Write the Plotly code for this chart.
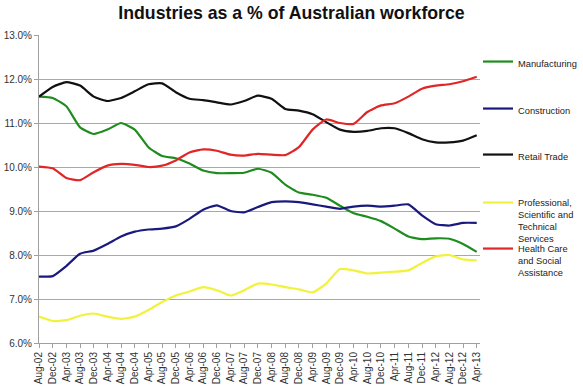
import plotly.graph_objects as go

months = ["Aug-02", "Dec-02", "Apr-03", "Aug-03", "Dec-03", "Apr-04", "Aug-04", "Dec-04",
          "Apr-05", "Aug-05", "Dec-05", "Apr-06", "Aug-06", "Dec-06", "Apr-07", "Aug-07",
          "Dec-07", "Apr-08", "Aug-08", "Dec-08", "Apr-09", "Aug-09", "Dec-09", "Apr-10",
          "Aug-10", "Dec-10", "Apr-11", "Aug-11", "Dec-11", "Apr-12", "Aug-12", "Dec-12",
          "Apr-13"]

manufacturing = [11.60, 11.57, 11.38, 10.90, 10.75, 10.85, 11.00, 10.85, 10.45, 10.25, 10.20,
                 10.08, 9.92, 9.86, 9.86, 9.87, 9.96, 9.87, 9.60, 9.42, 9.37, 9.30, 9.12,
                 8.95, 8.87, 8.77, 8.60, 8.42, 8.36, 8.38, 8.37, 8.25, 8.07]
construction = [7.51, 7.52, 7.75, 8.03, 8.10, 8.25, 8.42, 8.53, 8.58, 8.60, 8.65, 8.82,
                9.03, 9.13, 9.00, 8.97, 9.09, 9.20, 9.22, 9.20, 9.15, 9.10, 9.05, 9.10,
                9.12, 9.10, 9.12, 9.15, 8.90, 8.70, 8.67, 8.73, 8.73]
retail = [11.60, 11.82, 11.93, 11.85, 11.60, 11.50, 11.57, 11.72, 11.88, 11.90, 11.70,
          11.55, 11.52, 11.47, 11.42, 11.50, 11.62, 11.55, 11.32, 11.28, 11.20, 11.02,
          10.85, 10.80, 10.82, 10.88, 10.88, 10.77, 10.63, 10.56, 10.56, 10.60, 10.72]
professional = [6.60, 6.50, 6.52, 6.62, 6.67, 6.60, 6.55, 6.60, 6.75, 6.93, 7.08, 7.17,
                7.27, 7.20, 7.08, 7.20, 7.35, 7.33, 7.27, 7.22, 7.15, 7.35, 7.68, 7.65,
                7.58, 7.60, 7.62, 7.65, 7.82, 7.97, 8.00, 7.90, 7.88]
health = [10.01, 9.97, 9.75, 9.70, 9.88, 10.03, 10.07, 10.05, 10.00, 10.03, 10.15, 10.33,
          10.40, 10.37, 10.28, 10.26, 10.30, 10.28, 10.27, 10.45, 10.85, 11.08, 11.00,
          10.98, 11.25, 11.40, 11.45, 11.60, 11.78, 11.85, 11.88, 11.95, 12.05]

y_ticks = [6, 7, 8, 9, 10, 11, 12, 13]
y_tick_labels = ["6.0%", "7.0%", "8.0%", "9.0%", "10.0%", "11.0%", "12.0%", "13.0%"]

series = [
    ("Manufacturing", manufacturing, "#1e8c1e", "legend"),
    ("Construction", construction, "#1a1a7e", "legend2"),
    ("Retail Trade", retail, "#111111", "legend3"),
    ("Professional,<br>Scientific and<br>Technical<br>Services", professional, "#f2f23c", "legend4"),
    ("Health Care<br>and Social<br>Assistance", health, "#e02626", "legend5"),
]

fig = go.Figure()
for name, vals, color, lg in series:
    fig.add_trace(go.Scatter(
        x=months, y=vals, mode="lines", name=name,
        line=dict(color=color, width=2.2, shape="spline", smoothing=0.5),
        legend=lg, hoverinfo="skip"))

W, H = 583, 388
L, R, T, B = 39, 103, 35, 45
plot_h = H - T - B
plot_w = W - L - R


def py(ypix):
    return (H - B - ypix) / plot_h


leg_x = (478 - L) / plot_w
leg_tops = [49, 96, 142, 190, 236]
leg_common = dict(font=dict(family="Liberation Sans, Arial, sans-serif", size=9.3, color="#222"),
                  bgcolor="rgba(0,0,0,0)", borderwidth=0, valign="top",
                  xanchor="left", yanchor="top", x=leg_x, tracegroupgap=0)

layout_legends = {}
for i, top in enumerate(leg_tops):
    key = "legend" if i == 0 else f"legend{i+1}"
    layout_legends[key] = dict(leg_common, y=py(top))

fig.update_layout(
    width=W, height=H,
    margin=dict(l=L, r=R, t=T, b=B, autoexpand=False),
    paper_bgcolor="white", plot_bgcolor="white",
    title=dict(text="<b>Industries as a % of Australian workforce</b>",
               x=0.5, xanchor="center", y=1 - 13 / H, yanchor="middle", yref="container",
               font=dict(family="Liberation Sans, Arial, sans-serif", size=17.7, color="#111")),
    showlegend=True,
    **layout_legends,
    xaxis=dict(type="category", range=[0, 32.24], tickangle=-90,
               tickfont=dict(family="Liberation Sans, Arial, sans-serif", size=10, color="#333"),
               showgrid=False, showline=True, linecolor="#a0a0a0", linewidth=1,
               ticks="outside", ticklen=4, tickcolor="#a0a0a0", zeroline=False),
    yaxis=dict(range=[6, 13], tickvals=y_ticks, ticktext=y_tick_labels,
               tickfont=dict(family="Liberation Sans, Arial, sans-serif", size=10, color="#333"),
               showgrid=True, gridcolor="#a8a8a8", gridwidth=1,
               showline=True, linecolor="#a0a0a0", linewidth=1,
               ticks="outside", ticklen=4, tickcolor="#a0a0a0", zeroline=False),
)

fig.write_html("out.html",
               config={"displayModeBar": False},
               post_script="document.body.style.margin='0';document.body.style.padding='0';")
